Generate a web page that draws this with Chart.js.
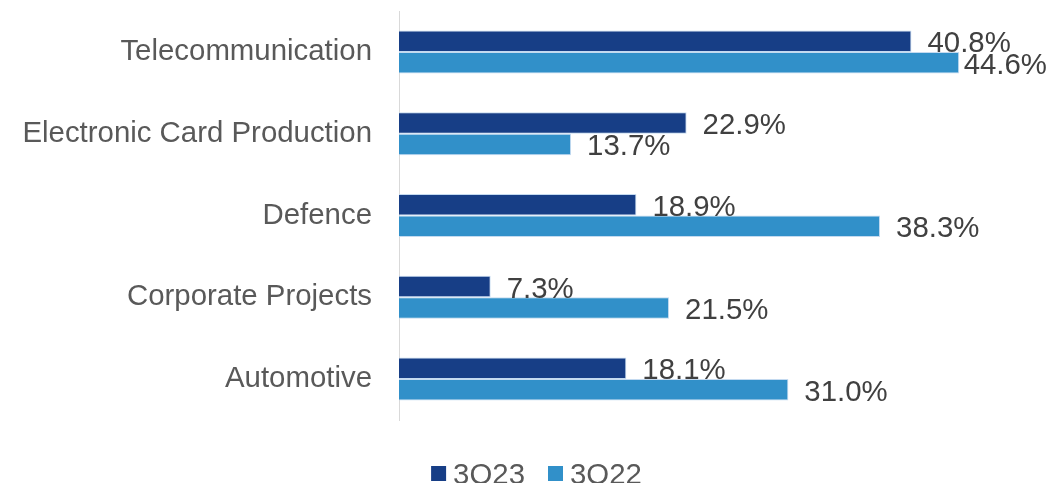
<!DOCTYPE html>
<html>
<head>
<meta charset="utf-8">
<title>Revenue share by segment</title>
<script src="https://cdn.jsdelivr.net/npm/chart.js@4/dist/chart.umd.min.js"></script>
<style>
  html, body { margin: 0; padding: 0; background: #ffffff; }
  #wrap { width: 1053px; height: 483px; position: relative; }
</style>
</head>
<body>
<div id="wrap"><canvas id="chart" width="1053" height="483"></canvas></div>
<script>
// Segment shares, in percent
const categories = ['Telecommunication', 'Electronic Card Production', 'Defence', 'Corporate Projects', 'Automotive'];
const seriesNames = ['3Q23', '3Q22'];
const values3Q23 = [40.8, 22.9, 18.9, 7.3, 18.1];
const values3Q22 = [44.6, 13.7, 38.3, 21.5, 31.0];

const FONT = "'Liberation Sans', Arial, Helvetica, sans-serif";
const FONT_SIZE = 29.4;
const COLORS = ['#173E86', '#3190C9'];

Chart.defaults.font.family = FONT;

// Value labels to the right of each bar, kept inside the canvas
const valueLabels = {
  id: 'valueLabels',
  afterDatasetsDraw(chart) {
    const ctx = chart.ctx;
    ctx.save();
    ctx.font = FONT_SIZE + 'px ' + FONT;
    ctx.fillStyle = '#404040';
    ctx.textAlign = 'left';
    ctx.textBaseline = 'alphabetic';
    const rightLimit = chart.width - 6;
    chart.data.datasets.forEach((ds, di) => {
      const meta = chart.getDatasetMeta(di);
      meta.data.forEach((bar, i) => {
        const txt = ds.data[i].toFixed(1) + '%';
        const w = ctx.measureText(txt).width;
        const x = Math.min(bar.x + 16, rightLimit - w);
        ctx.fillText(txt, x, bar.y + 11);
      });
    });
    ctx.restore();
  }
};

// Legend centred under the plot
const bottomLegend = {
  id: 'bottomLegend',
  afterDraw(chart) {
    const ctx = chart.ctx;
    ctx.save();
    ctx.font = FONT_SIZE + 'px ' + FONT;
    const box = 15, gapText = 7, gapItem = 23;
    const items = chart.data.datasets.map(ds => ({ label: ds.label, color: ds.backgroundColor, w: ctx.measureText(ds.label).width }));
    let total = 0;
    items.forEach((it, k) => { total += box + gapText + it.w + (k < items.length - 1 ? gapItem : 0); });
    let x = chart.width / 2 + 10 - total / 2;
    const boxTop = 466, baseline = 483.5;
    items.forEach(it => {
      ctx.fillStyle = it.color;
      ctx.fillRect(x, boxTop, box, box);
      x += box + gapText;
      ctx.fillStyle = '#595959';
      ctx.textBaseline = 'alphabetic';
      ctx.fillText(it.label, x, baseline);
      x += it.w + gapItem;
    });
    ctx.restore();
  }
};

new Chart(document.getElementById('chart'), {
  type: 'bar',
  data: {
    labels: categories,
    datasets: [
      { label: seriesNames[0], data: values3Q23, backgroundColor: COLORS[0], borderColor: 'rgba(190,214,238,0.9)', borderWidth: 1 },
      { label: seriesNames[1], data: values3Q22, backgroundColor: COLORS[1], borderColor: 'rgba(190,214,238,0.9)', borderWidth: 1 }
    ]
  },
  options: {
    indexAxis: 'y',
    responsive: false,
    animation: false,
    layout: { padding: { top: 11, bottom: 63, left: 0, right: 26 } },
    datasets: { bar: { categoryPercentage: 0.526, barPercentage: 1.0 } },
    scales: {
      x: { min: 0, max: 50, display: false },
      y: {
        grid: { display: false, drawTicks: false },
        border: { display: true, color: '#d9d9d9', width: 1 },
        ticks: { padding: 27, color: '#595959', font: { size: FONT_SIZE } },
        afterFit(scale) {
          scale.width = 399;
          scale.paddingTop = 0;
          scale.paddingBottom = 0;
        }
      }
    },
    plugins: {
      legend: { display: false },
      tooltip: { enabled: false }
    }
  },
  plugins: [valueLabels, bottomLegend]
});
</script>
</body>
</html>
